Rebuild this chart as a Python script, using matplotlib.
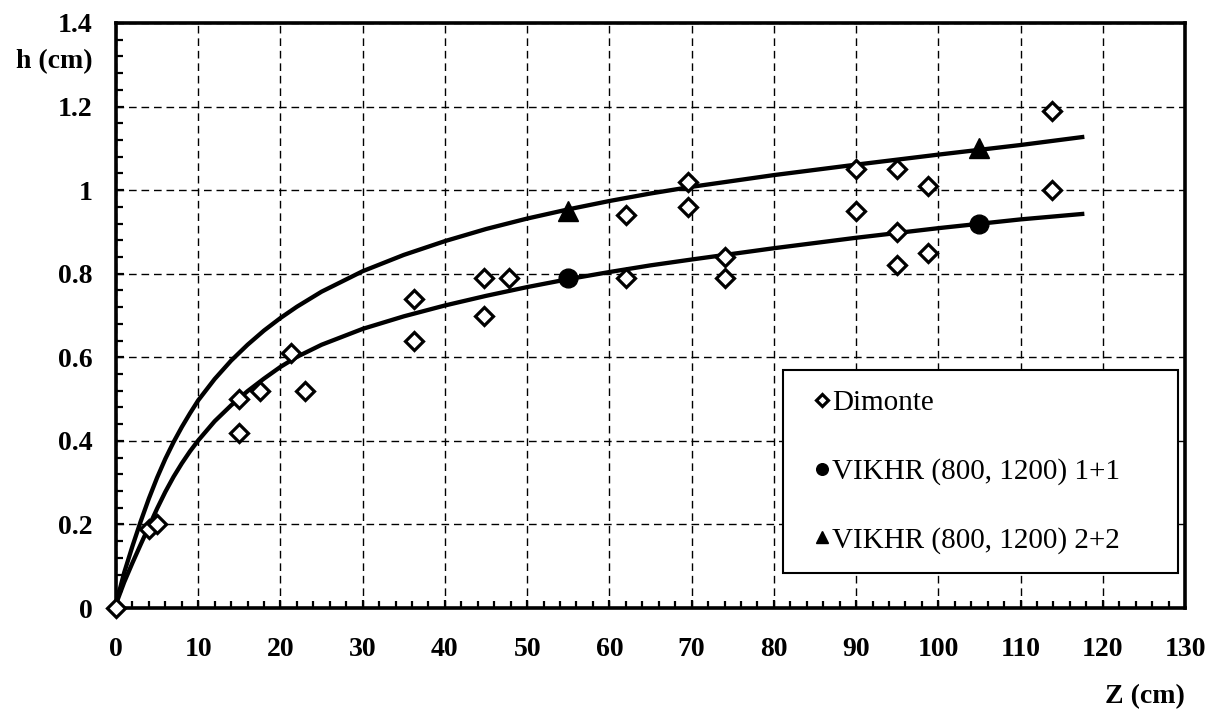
import matplotlib
matplotlib.use('Agg')
import matplotlib.pyplot as plt
from matplotlib.ticker import MultipleLocator, FuncFormatter

plt.rcParams['font.family'] = ['Liberation Serif', 'DejaVu Serif']

# ---- data ----
dimonte_z = [0, 4.0, 5.0, 15, 15, 17.5, 21.3, 23, 36.3, 36.3, 44.8, 44.8, 47.8,
             62, 62, 69.5, 69.5, 74, 74, 90, 90, 95, 95, 95, 98.7, 98.7, 113.8, 113.8]
dimonte_h = [0, 0.19, 0.20, 0.50, 0.42, 0.52, 0.61, 0.52, 0.74, 0.64, 0.79, 0.70, 0.79,
             0.94, 0.79, 1.02, 0.96, 0.84, 0.79, 1.05, 0.95, 1.05, 0.90, 0.82, 1.01, 0.85, 1.19, 1.00]

vikhr11_z = [55, 105]
vikhr11_h = [0.79, 0.92]
vikhr22_z = [55, 105]
vikhr22_h = [0.95, 1.10]

curve_z = [0.2, 1, 2, 3, 4, 5, 6, 7, 8, 9, 10, 12, 14, 16, 18, 20, 22, 25, 30, 35, 40, 45, 50,
           55, 60, 65, 70, 80, 90, 100, 110, 117.5]
curve_upper = [0.025, 0.085, 0.148, 0.207, 0.262, 0.312, 0.357, 0.397, 0.433, 0.466, 0.497,
               0.548, 0.592, 0.630, 0.664, 0.694, 0.721, 0.757, 0.806, 0.845, 0.878, 0.907,
               0.932, 0.954, 0.974, 0.992, 1.008, 1.036, 1.061, 1.085, 1.108, 1.127]
curve_lower = [0.02, 0.062, 0.108, 0.152, 0.195, 0.238, 0.278, 0.314, 0.346, 0.375, 0.401,
               0.447, 0.485, 0.519, 0.549, 0.577, 0.601, 0.630, 0.668, 0.698, 0.724, 0.747,
               0.768, 0.787, 0.804, 0.820, 0.834, 0.861, 0.886, 0.909, 0.930, 0.943]

x_ticks = [0, 10, 20, 30, 40, 50, 60, 70, 80, 90, 100, 110, 120, 130]
y_ticks = [0, 0.2, 0.4, 0.6, 0.8, 1.0, 1.2, 1.4]

# ---- figure ----
fig = plt.figure(figsize=(12.17, 7.09), dpi=100)
ax = fig.add_axes([116 / 1217, 1 - 608 / 709, 1069 / 1217, 585 / 709])

ax.plot(curve_z, curve_upper, color='black', lw=3.1, zorder=3, solid_joinstyle='round')
ax.plot(curve_z, curve_lower, color='black', lw=3.1, zorder=3, solid_joinstyle='round')

ax.plot(dimonte_z, dimonte_h, linestyle='none', marker='D', ms=9.5, mfc='white',
        mec='black', mew=2.3, label='Dimonte', zorder=5, clip_on=False)
ax.plot(vikhr11_z, vikhr11_h, linestyle='none', marker='o', ms=13.5, mfc='black',
        mec='black', label='VIKHR (800, 1200) 1+1', zorder=5)
ax.plot(vikhr22_z, vikhr22_h, linestyle='none', marker='^', ms=14, mfc='black',
        mec='black', label='VIKHR (800, 1200) 2+2', zorder=5)

ax.set_xlim(0, 130)
ax.set_ylim(0, 1.4)
ax.set_xticks(x_ticks)
ax.set_yticks(y_ticks)
ax.xaxis.set_minor_locator(MultipleLocator(2))
ax.yaxis.set_minor_locator(MultipleLocator(0.04))
ax.xaxis.set_major_formatter(FuncFormatter(lambda v, p: f'{v:g}'))
ax.yaxis.set_major_formatter(FuncFormatter(lambda v, p: f'{v:g}'))

ax.grid(True, which='major', color='black', linestyle=(0, (5.5, 3.5)), lw=1.0, zorder=1)
ax.set_axisbelow(True)

ax.tick_params(which='both', direction='in', top=False, right=False, color='black')
ax.tick_params(which='major', length=6, width=1.6, labelsize=20)
ax.tick_params(which='minor', length=5, width=1.6)
ax.tick_params(axis='x', pad=21)
ax.tick_params(axis='y', pad=17)
for lbl in ax.get_xticklabels() + ax.get_yticklabels():
    lbl.set_fontweight('bold')

for s in ax.spines.values():
    s.set_linewidth(2.6)
    s.set_color('black')

ax.set_xlabel('Z (cm)', loc='right', fontsize=20, fontweight='bold', labelpad=16)
ax.set_ylabel('h (cm)', rotation=0, fontsize=20, fontweight='bold', ha='right', va='center')
ax.yaxis.set_label_coords(-0.022, 0.934)

leg = ax.legend(loc='upper left', bbox_to_anchor=(0.624, 0.064, 0.369, 0.342), mode='expand',
                borderaxespad=0, fontsize=21, frameon=True, fancybox=False, framealpha=1,
                edgecolor='black', borderpad=0.67, labelspacing=1.43, handlelength=1.34,
                handletextpad=-0.33, markerscale=0.62)
leg.get_frame().set_linewidth(1.5)
leg.set_zorder(6)

fig.savefig('out.png', dpi=100)
